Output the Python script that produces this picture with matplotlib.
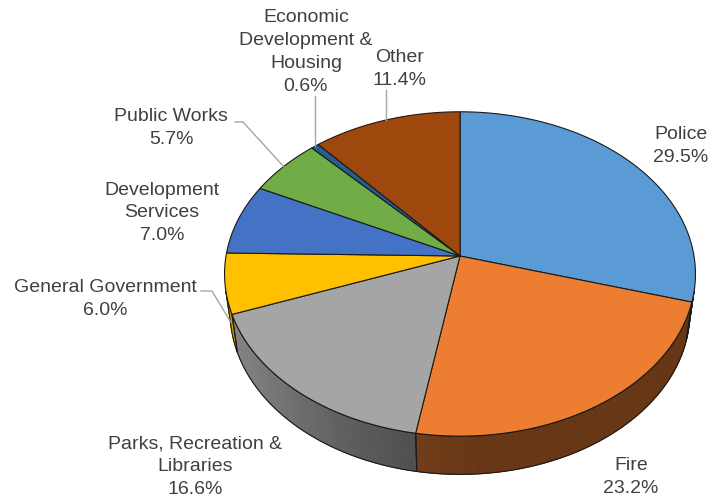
import numpy as np
import matplotlib.pyplot as plt
from matplotlib.patches import Polygon

# Budget shares by department
departments = ["Police", "Fire", "Parks, Recreation &\nLibraries", "General Government",
               "Development\nServices", "Public Works", "Economic\nDevelopment &\nHousing", "Other"]
shares = [29.5, 23.2, 16.6, 6.0, 7.0, 5.7, 0.6, 11.4]
colors = ["#5b9bd5", "#ed7d31", "#a5a5a5", "#ffc000", "#4472c4", "#70ad47", "#255e91", "#9e480e"]

# label block centres (pixels) and leader-line start points (None = no leader)
label_pos = [(681, 146), (631, 477), (195, 467), (105, 299),
             (162, 213), (171, 128), (306, 52), (400, 69)]
leader_start = [None, None, None, [(201, 292), (212, 292)],
                None, [(235, 123), (243, 123)], "vertical", "vertical"]

W, H = 711, 502
CX, CY = 460, 257          # where the pie centre lands
ELEV = np.radians(43.2)    # camera elevation
DIST = 6.58                # camera distance (pie radius = 1)
FOC = 234 * DIST           # focal length in pixels
THICK = 0.23               # disc thickness
LINE_STEP = 23.3           # pixel distance between label lines

cam = np.array([0.0, -DIST * np.cos(ELEV), DIST * np.sin(ELEV)])
fwd = np.array([0.0, np.cos(ELEV), -np.sin(ELEV)])
up = np.array([0.0, np.sin(ELEV), np.cos(ELEV)])


def project(pts):
    pts = np.atleast_2d(pts) - cam
    depth = pts @ fwd
    sx = pts[:, 0] / depth * FOC
    sy = (pts @ up) / depth * FOC
    return np.column_stack([CX + sx, CY - sy])


def rim(phi, z=0.0):
    # phi measured clockwise from the back of the pie, in degrees
    r = np.radians(np.atleast_1d(phi))
    return np.column_stack([np.sin(r), np.cos(r), np.full(r.shape, z)])


def shade(hex_color, phi):
    rgb = np.array([int(hex_color[i:i + 2], 16) for i in (1, 3, 5)]) / 255
    r = np.radians(phi)
    n = np.array([np.sin(r), np.cos(r)])
    light = np.array([-1.0, -0.2]) / np.hypot(1.0, 0.2)
    diff = max(0.0, n @ light)
    return tuple(rgb * (0.43 + 0.38 * diff ** 2))


fig = plt.figure(figsize=(W / 100, H / 100), dpi=100)
ax = fig.add_axes([0, 0, 1, 1])
ax.set_xlim(0, W)
ax.set_ylim(H, 0)
ax.axis("off")

bounds = np.concatenate([[0], np.cumsum(shares)]) / sum(shares) * 360
edge = "#1a1a1a"

# side wall: only the part that faces the camera
vis_cos = -1 / (DIST * np.cos(ELEV))
for i, col in enumerate(colors):
    a0, a1 = bounds[i], bounds[i + 1]
    phis = np.linspace(a0, a1, max(3, int((a1 - a0) * 2)))
    phis = phis[np.cos(np.radians(phis)) < vis_cos]
    if len(phis) < 2:
        continue
    for p0, p1 in zip(phis[:-1], phis[1:]):
        quad = np.vstack([project(rim([p0, p1])), project(rim([p1, p0], -THICK))])
        c = shade(col, 0.5 * (p0 + p1))
        ax.add_patch(Polygon(quad, closed=True, fc=c, ec=c, lw=0.6, zorder=1))
    outline = np.vstack([project(rim(phis)), project(rim(phis[::-1], -THICK))])
    ax.add_patch(Polygon(outline, closed=True, fill=False, ec=edge, lw=0.8, zorder=2))

# top face
centre = project([0, 0, 0])
for i, col in enumerate(colors):
    a0, a1 = bounds[i], bounds[i + 1]
    phis = np.linspace(a0, a1, max(3, int((a1 - a0) * 2)))
    poly = np.vstack([centre, project(rim(phis))])
    ax.add_patch(Polygon(poly, closed=True, fc=col, ec=edge, lw=0.8, zorder=3))

# labels and leader lines
txt = "#404040"
for i, name in enumerate(departments):
    x, y = label_pos[i]
    nlines = name.count("\n") + 2
    ax.text(x, y, f"{name}\n{shares[i]:.1f}%", ha="center", va="center", fontsize=14,
            family="Liberation Sans", color=txt, linespacing=1.45, zorder=5)
    mid = 0.5 * (bounds[i] + bounds[i + 1])
    lead = leader_start[i]
    if lead is None:
        continue
    if lead == "vertical":
        end = project(rim(mid))[0]
        top = y + (nlines - 1) / 2 * LINE_STEP + 10
        ax.plot([end[0], end[0]], [top, end[1]], color="#a6a6a6", lw=1, zorder=4)
    else:
        z = -THICK if name.startswith("General") else 0.0
        end = project(rim(mid, z))[0]
        xs = [p[0] for p in lead] + [end[0]]
        ys = [p[1] for p in lead] + [end[1]]
        ax.plot(xs, ys, color="#a6a6a6", lw=1, zorder=4)

fig.savefig("out.png", dpi=100, facecolor="white")
